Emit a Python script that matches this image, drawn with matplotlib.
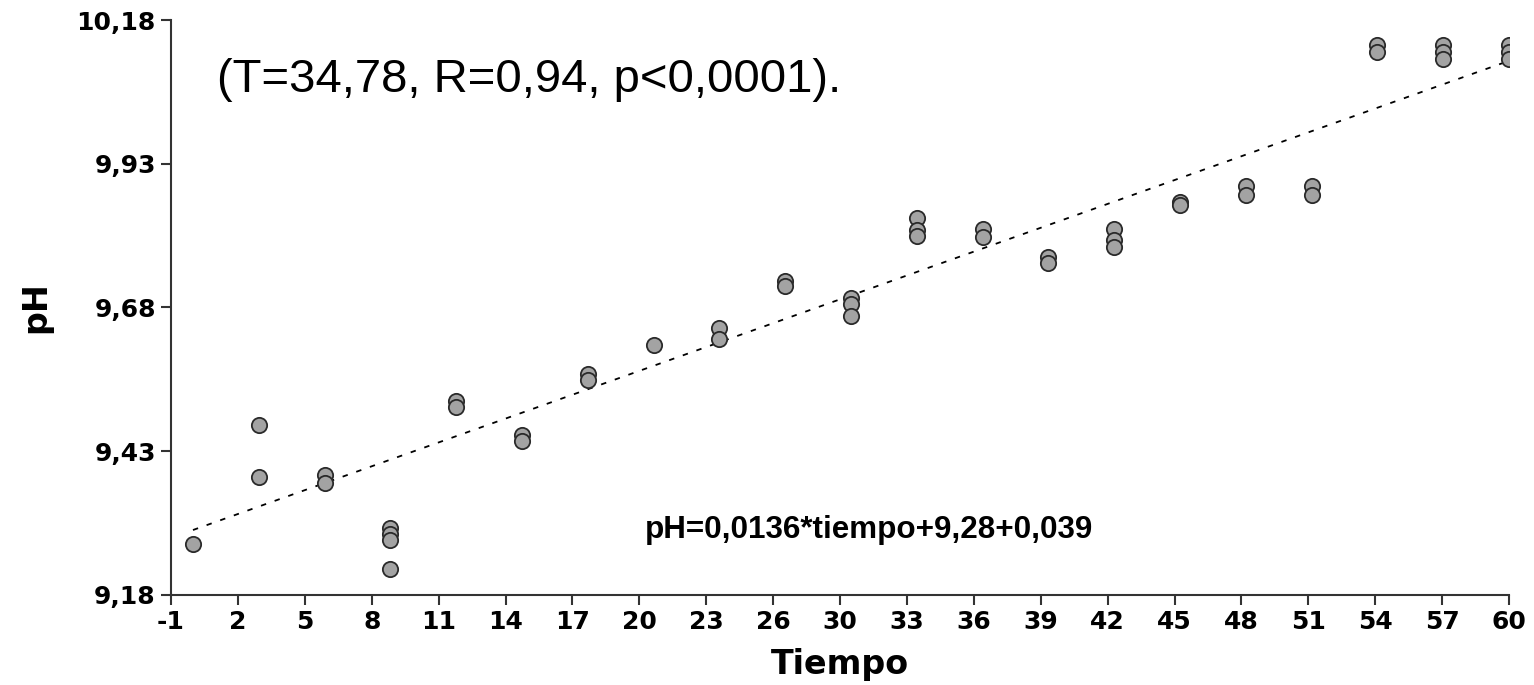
import numpy as np
from matplotlib import pyplot as plt
from matplotlib import font_manager

# data
tiempo = [0,
          3, 3,
          6, 6,
          9, 9, 9, 9,
          12, 12,
          15, 15,
          18, 18,
          21,
          24, 24,
          27, 27,
          30, 30, 30,
          33, 33, 33,
          36, 36,
          39, 39,
          42, 42, 42,
          45, 45,
          48, 48,
          51, 51,
          54, 54,
          57, 57, 57,
          60, 60, 60]
ph = [9.268,
      9.476, 9.386,
      9.389, 9.375,
      9.297, 9.286, 9.276, 9.226,
      9.518, 9.507,
      9.458, 9.447,
      9.564, 9.554,
      9.615,
      9.644, 9.625,
      9.726, 9.717,
      9.696, 9.686, 9.665,
      9.835, 9.815, 9.804,
      9.816, 9.803,
      9.767, 9.757,
      9.816, 9.797, 9.786,
      9.863, 9.858,
      9.891, 9.876,
      9.891, 9.876,
      10.137, 10.125,
      10.137, 10.125, 10.113,
      10.137, 10.125, 10.113]

fit_slope = 0.0136
fit_intercept = 9.293
fit_range = [0, 60]

x_ticks = np.linspace(-1, 60, 21)
x_tick_labels = ['-1', '2', '5', '8', '11', '14', '17', '20', '23', '26', '30',
                 '33', '36', '39', '42', '45', '48', '51', '54', '57', '60']
y_ticks = [9.18, 9.43, 9.68, 9.93, 10.18]
y_tick_labels = ['9,18', '9,43', '9,68', '9,93', '10,18']

plt.rcParams['font.family'] = ['Liberation Sans', 'DejaVu Sans']
WIDE = 'DejaVu Sans'

# plain (non-narrow) Liberation Sans Bold for the equation
bold_file = None
for f in font_manager.fontManager.ttflist:
    if f.name == 'Liberation Sans' and f.weight in (700, 'bold') \
            and f.style == 'normal' and 'Narrow' not in f.fname:
        bold_file = f.fname
        break
if bold_file:
    eq_font = font_manager.FontProperties(fname=bold_file, size=22.6)
else:
    eq_font = font_manager.FontProperties(family='DejaVu Sans', weight='bold', size=19)

fig = plt.figure(figsize=(15.34, 6.85), dpi=100)
ax = fig.add_axes([0.1115, 0.1314, 0.8722, 0.8394])

xf = np.array(fit_range, dtype=float)
ax.plot(xf, fit_intercept + fit_slope * xf, color='black', linewidth=1.3,
        linestyle=(0, (3, 5)), zorder=2)
ax.plot(tiempo, ph, linestyle='none', marker='o', markersize=11,
        markerfacecolor='#a3a3a3', markeredgecolor='#2a2a2a',
        markeredgewidth=1.3, zorder=3)

ax.set_xlim(-1, 60)
ax.set_ylim(9.18, 10.18)
ax.set_xticks(x_ticks)
ax.set_xticklabels(x_tick_labels, fontsize=18, fontweight='bold', family=WIDE)
ax.set_yticks(y_ticks)
ax.set_yticklabels(y_tick_labels, fontsize=18, fontweight='bold', family=WIDE)
ax.tick_params(direction='out', length=7, width=1.5, color='#333333', pad=4)
for side in ('top', 'right'):
    ax.spines[side].set_visible(False)
for side in ('left', 'bottom'):
    ax.spines[side].set_linewidth(1.5)
    ax.spines[side].set_color('#333333')

ax.set_xlabel('Tiempo', fontsize=24, fontweight='bold', family=WIDE)
ax.set_ylabel('pH', fontsize=24, fontweight='bold', family=WIDE)
ax.xaxis.set_label_coords(0.5, -0.092)
ax.yaxis.set_label_coords(-0.089, 0.5)

ax.text(0.034, 0.896, '(T=34,78, R=0,94, p<0,0001).', transform=ax.transAxes,
        fontsize=34, va='center', ha='left')
ax.text(0.354, 0.113, 'pH=0,0136*tiempo+9,28+0,039', transform=ax.transAxes,
        fontproperties=eq_font, va='center', ha='left')

fig.savefig('out.png', dpi=100)
